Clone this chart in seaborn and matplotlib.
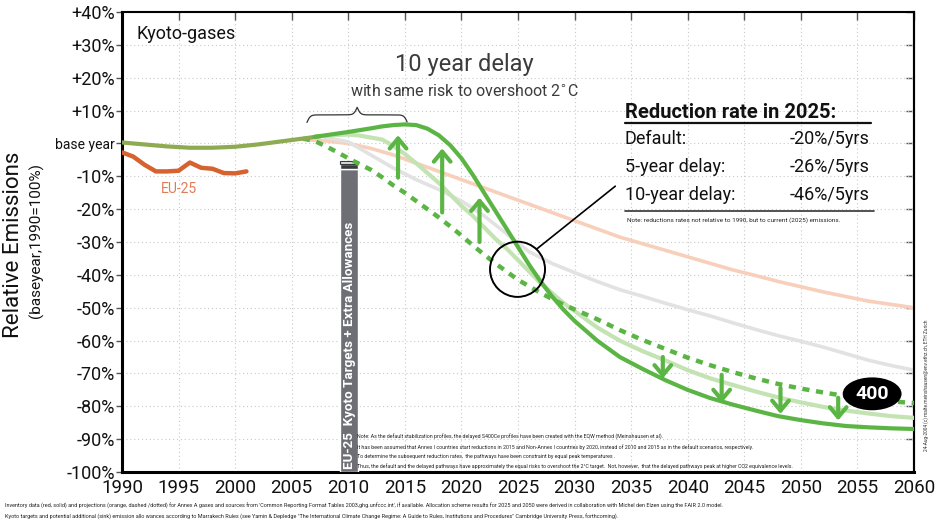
import numpy as np
import pandas as pd
import matplotlib
matplotlib.use("Agg")
import matplotlib.pyplot as plt
from matplotlib.patches import Ellipse
from matplotlib.lines import Line2D
import seaborn as sns

sns.set_theme(style="white")
plt.rcParams['font.family'] = ['Roboto', 'DejaVu Sans']

# --- data (% relative to base year 1990) ---
base_years = [1990, 1992, 1994, 1996, 1998, 2000, 2002, 2004, 2006, 2007.5]
base_vals = [0.3, -0.3, -0.9, -1.3, -1.3, -1.0, -0.3, 0.6, 1.5, 2.2]

eu_years = [1990, 1991, 1992, 1993, 1994, 1995, 1996, 1997, 1998, 1999, 2000, 2001]
eu_vals = [-2.7, -4.0, -6.5, -8.5, -8.5, -8.3, -5.8, -7.4, -7.7, -9.0, -9.1, -8.5]

delay10_years = [2007, 2008, 2010, 2012, 2013, 2014, 2015, 2016, 2017, 2018, 2019, 2020,
                 2021, 2022, 2023, 2024, 2025, 2026, 2027, 2028, 2029, 2030, 2032, 2034,
                 2036, 2038, 2040, 2042, 2044, 2046, 2048, 2050, 2052, 2054, 2056, 2058, 2060]
delay10_vals = [2.0, 2.5, 3.5, 4.6, 5.2, 5.6, 5.8, 5.6, 4.5, 2.5, -0.5, -4.5,
                -9.5, -15.0, -20.5, -26.0, -31.5, -37.0, -42.0, -46.5, -50.5, -54.0, -60.0, -65.0,
                -68.6, -72.0, -75.0, -77.5, -79.5, -81.3, -83.0, -84.2, -85.2, -86.0, -86.4, -86.7, -86.9]

delay5_years = [2007, 2009, 2010, 2011, 2013, 2014, 2015, 2016, 2017, 2018, 2019, 2020,
                2021, 2022, 2023, 2024, 2025, 2026, 2027, 2028, 2029, 2030, 2032, 2034,
                2036, 2038, 2040, 2042, 2044, 2046, 2048, 2050, 2052, 2054, 2056, 2058, 2060]
delay5_vals = [2.0, 2.6, 2.7, 2.4, 1.2, -0.8, -3.2, -6.0, -9.0, -12.0, -15.5, -19.0,
               -22.0, -25.5, -29.0, -32.0, -35.5, -39.0, -42.5, -45.5, -48.5, -51.0, -56.0, -60.0,
               -63.2, -66.0, -69.0, -71.5, -73.5, -75.5, -77.3, -78.8, -80.2, -81.3, -82.2, -83.0, -83.5]

default_years = [2006, 2007, 2008, 2009, 2010, 2011, 2012, 2013, 2014, 2015, 2016, 2017,
                 2018, 2019, 2020, 2021, 2022, 2023, 2024, 2025, 2026, 2027, 2028, 2029,
                 2030, 2032, 2034, 2036, 2038, 2040, 2042, 2044, 2046, 2048, 2050, 2052,
                 2054, 2056, 2058, 2060]
default_vals = [1.5, 0.8, -0.8, -2.6, -4.5, -6.3, -8.0, -10.3, -12.8, -15.0, -17.5, -20.0,
                -22.5, -25.2, -28.0, -31.0, -33.8, -36.5, -39.0, -41.5, -43.5, -45.5, -47.3, -49.0,
                -50.5, -53.5, -56.8, -59.8, -62.5, -65.2, -67.5, -69.6, -71.5, -73.2, -74.6, -75.8,
                -76.9, -77.8, -78.5, -79.0]

gray_years = [2008, 2010, 2012, 2014, 2016, 2018, 2020, 2022, 2024, 2026, 2028, 2030, 2032,
              2034, 2036, 2038, 2040, 2042, 2044, 2046, 2048, 2050, 2052, 2054, 2056, 2058, 2060]
gray_vals = [1.8, 0.5, -3.5, -7.5, -11.0, -14.0, -17.5, -22.0, -27.5, -33.0, -36.5, -39.3, -42.0,
             -44.5, -46.5, -48.6, -50.6, -52.5, -54.6, -56.6, -58.5, -60.2, -62.0, -64.0, -66.0, -67.6, -69.0]

peach_years = [2006, 2008, 2010, 2012, 2014, 2016, 2018, 2020, 2022, 2024, 2026, 2028, 2030,
               2032, 2034, 2036, 2038, 2040, 2042, 2044, 2046, 2048, 2050, 2052, 2054, 2056, 2058, 2060]
peach_vals = [1.2, 0.8, 0.0, -1.5, -3.5, -6.0, -8.5, -11.0, -13.5, -16.0, -18.5, -21.0, -23.5,
              -26.0, -28.5, -30.5, -32.5, -34.5, -36.5, -38.5, -40.2, -42.0, -43.6, -45.2, -46.6, -48.0, -49.0, -50.0]

# Kyoto target bar
bar_year = 2010.05
bar_top = -5.2
bar_band = -7.9

up_arrow_years = [2014.4, 2018.3, 2021.6]
up_arrow_from = [-10.4, -21.0, -30.0]
up_arrow_to = [2.5, -1.5, -16.5]
down_arrow_years = [2037.8, 2043.0, 2048.2, 2053.3]
down_arrow_from = [-65.0, -70.4, -74.4, -77.4]
down_arrow_to = [-71.5, -79.0, -82.3, -84.3]

circle_center = (2024.96, -38.3)
label_400 = (2056.3, -76.2)

rate_labels = ["Default:", "5-year delay:", "10-year delay:"]
rate_values = ["-20%/5yrs", "-26%/5yrs", "-46%/5yrs"]

x_ticks = list(range(1990, 2061, 5))
y_ticks = list(range(-100, 41, 10))
y_ticklabels = ["base year" if v == 0 else (f"+{v}%" if v > 0 else f"{v}%") for v in y_ticks]

green = "#5bb545"
light_green = "#c3e3b2"
olive = "#8eab52"

W, H = 936, 524
def fx(x):
    return x / W
def fy(y):
    return 1 - y / H

fig, ax = plt.subplots(figsize=(9.36, 5.24), dpi=100)
fig.subplots_adjust(left=0.1303, right=0.9765, bottom=0.0992, top=0.977)

# background scenario lines
sns.lineplot(x=peach_years, y=peach_vals, ax=ax, color="#f8cfba", lw=2.6, zorder=2)
sns.lineplot(x=gray_years, y=gray_vals, ax=ax, color="#e2e2e2", lw=2.6, zorder=2)
sns.lineplot(x=delay5_years, y=delay5_vals, ax=ax, color=light_green, lw=3.0, zorder=3)

# Kyoto bar
ax.bar(bar_year, bar_band - (-100), bottom=-100, width=1.55, color="#6e6f75", zorder=3.5)
ax.bar(bar_year, (bar_top - 0.9) - bar_band, bottom=bar_band, width=1.55, color="#3a3b3f", zorder=3.5)
ax.bar(bar_year, 0.9, bottom=bar_top - 0.9, width=1.55, color="#dcdcdc",
       edgecolor="#3a3b3f", linewidth=0.8, zorder=3.5)
ax.text(bar_year + 0.05, -99, "EU-25  Kyoto Targets + Extra Allowances", rotation=90, ha="center",
        va="bottom", color="white", fontsize=9.6, fontweight="bold", zorder=3.6)

sns.lineplot(x=default_years, y=default_vals, ax=ax, color=green, lw=3.2,
             linestyle=(0, (1.6, 1.5)), zorder=4)
sns.lineplot(x=base_years, y=base_vals, ax=ax, color=olive, lw=3.0, zorder=4)
sns.lineplot(x=delay10_years, y=delay10_vals, ax=ax, color=green, lw=3.0, zorder=5)
sns.lineplot(x=eu_years, y=eu_vals, ax=ax, color="#d5622f", lw=3.2, zorder=5)

# arrows
for x, y0, y1 in zip(up_arrow_years + down_arrow_years, up_arrow_from + down_arrow_from,
                     up_arrow_to + down_arrow_to):
    ax.annotate("", xy=(x, y1), xytext=(x, y0),
                arrowprops=dict(arrowstyle="->,head_width=0.5,head_length=0.6", lw=3,
                                color=green, shrinkA=0, shrinkB=0), zorder=6)

# circle + pointer
ax.add_patch(Ellipse(circle_center, 4.86, 16.8, fill=False, ec="black", lw=1.4, zorder=7))
ax.plot([2026.7, 2033.6], [-32.0, -13.0], color="black", lw=1.2, zorder=7)

# 400 label
ax.add_patch(Ellipse(label_400, 5.2, 10.0, fc="black", ec="none", zorder=7))
ax.text(label_400[0], label_400[1], "400", color="white", fontsize=14, fontweight="bold",
        ha="center", va="center", zorder=8)

# curly brace over 2006-2015
def draw_brace(ax, x0, x1, y0, h):
    n = 400
    xs = np.linspace(x0, x1, n)
    half = xs[: n // 2 + 1]
    beta = 60.0 / (x1 - x0)
    yh = 1 / (1 + np.exp(-beta * (half - half[0]))) + 1 / (1 + np.exp(-beta * (half - half[-1])))
    ys = np.concatenate((yh, yh[-2::-1]))[:n]
    ys = y0 + (ys - 0.5) * h
    ax.plot(xs, ys, color="#333333", lw=0.9, zorder=6)

draw_brace(ax, 2006.35, 2015.2, 6.4, 4.6)

# texts inside plot
ax.text(1991.3, 33.2, "Kyoto-gases", fontsize=13, ha="left", va="center", color="#111111")
ax.text(1995.0, -14.0, "EU-25", fontsize=10, ha="center", va="center", color="#e07b55")
ax.text(2020.3, 24.1, "10 year delay", fontsize=17, ha="center", va="center", color="#3c3c3c")
ax.text(2020.3, 15.9, "with same risk to overshoot 2$^{\\circ}$C", fontsize=11.5, ha="center",
        va="center", color="#3c3c3c")

# reduction table
fig.text(fx(625), fy(112), "Reduction rate in 2025:", fontsize=14.5, fontweight="bold",
         ha="left", va="center", color="#111111")
fig.add_artist(Line2D([fx(625), fx(871)], [fy(123), fy(123)], color="#111111", lw=1.6))
for i, (lab, val) in enumerate(zip(rate_labels, rate_values)):
    yy = 139 + i * 28
    fig.text(fx(625), fy(yy), lab, fontsize=13, ha="left", va="center", color="#111111")
    fig.text(fx(870), fy(yy), val, fontsize=13, ha="right", va="center", color="#111111")
fig.add_artist(Line2D([fx(625), fx(874)], [fy(211), fy(211)], color="#333333", lw=1.2))
fig.text(fx(627), fy(220), "Note: reductions rates not relative to 1990, but to current (2025) emissions.",
         fontsize=4.6, ha="left", va="center", color="#222222")

note_lines = [
    "Note: As the default stabilization profiles, the delayed S400Ce profiles have been created with the EQW method (Meinshausen et al).",
    "It has been assumed that Annex I countries start reductions in 2015 and Non-Annex I countries by 2020, instead of 2010 and 2015 as in the default scenarios, respectively.",
    "To determine the subsequent reduction rates,  the pathways have been constraint by equal peak temperatures .",
    "Thus, the default and the delayed pathways have approximately the equal risks to overshoot the 2\u00b0C target.  Not, however,  that the delayed pathways peak at higher CO2 equivalence levels.",
]
for i, line in enumerate(note_lines):
    fig.text(fx(357), fy(437 + i * 9.7), line, fontsize=3.8, ha="left", va="center", color="#222222")

footer_lines = [
    "Inventory data (red, solid) and projections (orange, dashed /dotted) for Annex A gases and sources from 'Common Reporting Format Tables 2003,ghg.unfccc.int', if available. Allocation scheme results for 2025 and 2050 were derived in collaboration with Michel den Elzen using the FAIR 2.0 model.",
    "Kyoto targets and potential additional (sink) emission allo wances according to Marrakech Rules (see Yamin & Depledge \"The International Climate Change Regime: A Guide to Rules, Institutions and Procedures\" Cambridge University Press, forthcoming).",
]
for i, line in enumerate(footer_lines):
    fig.text(fx(5), fy(506 + i * 11), line, fontsize=4.0, ha="left", va="center", color="#222222")

fig.text(fx(926), fy(385), "24-Aug-2004 (c) malte.meinshausen@env.ethz.ch, ETH Zurich", rotation=90,
         fontsize=3.4, ha="center", va="center", color="#333333")

# y-axis title
fig.text(fx(14), fy(245), "Relative Emissions", rotation=90, fontsize=16, ha="center", va="center",
         color="#111111")
fig.text(fx(36), fy(240), "(baseyear,1990=100%)", rotation=90, fontsize=11, ha="center", va="center",
         color="#111111")

# axes styling
ax.set_xlim(1990, 2060)
ax.set_ylim(-100, 40)
ax.set_xticks(x_ticks)
ax.set_xticklabels([str(v) for v in x_ticks], fontsize=13.5)
ax.set_yticks(y_ticks)
ax.set_yticklabels(y_ticklabels, fontsize=13)
for lab in ax.get_yticklabels():
    if lab.get_text() == "base year":
        lab.set_fontsize(10)
ax.set_xlabel("")
ax.set_ylabel("")
ax.grid(True, color="#c9c9c9", lw=0.8, linestyle=(0, (1, 2.5)), zorder=0)
ax.set_axisbelow(True)
ax.tick_params(axis="x", direction="in", top=True, length=6, width=1.0, color="#555555", pad=5,
               labelcolor="#111111")
ax.tick_params(axis="y", direction="out", left=True, length=4, width=1.0, color="#555555", pad=1,
               labelcolor="#111111")
for side in ["left", "bottom"]:
    ax.spines[side].set_linewidth(2.2)
    ax.spines[side].set_color("black")
for side in ["top", "right"]:
    ax.spines[side].set_linewidth(1.5)
    ax.spines[side].set_color("black")

sec = ax.secondary_yaxis("right")
sec.set_yticks(y_ticks)
sec.set_yticklabels([])
sec.tick_params(direction="in", length=6, width=1.0, color="#555555")
sec.spines["right"].set_linewidth(1.5)

fig.savefig("out.png", dpi=100)
